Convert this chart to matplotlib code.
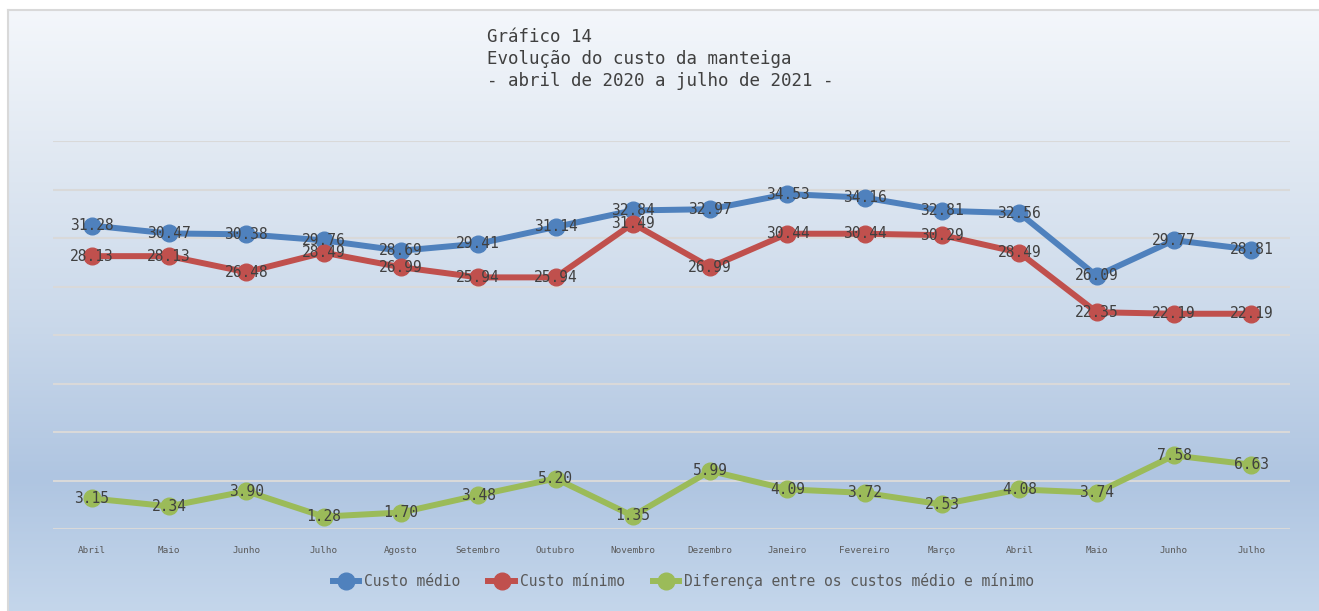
import numpy as np
import matplotlib
matplotlib.use("Agg")
import matplotlib.pyplot as plt
from matplotlib.colors import LinearSegmentedColormap

meses = ["Abril", "Maio", "Junho", "Julho", "Agosto", "Setembro", "Outubro", "Novembro",
         "Dezembro", "Janeiro", "Fevereiro", "Março", "Abril", "Maio", "Junho", "Julho"]
custo_medio = [31.28, 30.47, 30.38, 29.76, 28.69, 29.41, 31.14, 32.84,
               32.97, 34.53, 34.16, 32.81, 32.56, 26.09, 29.77, 28.81]
custo_minimo = [28.13, 28.13, 26.48, 28.49, 26.99, 25.94, 25.94, 31.49,
                26.99, 30.44, 30.44, 30.29, 28.49, 22.35, 22.19, 22.19]
diferenca = [3.15, 2.34, 3.90, 1.28, 1.70, 3.48, 5.20, 1.35,
             5.99, 4.09, 3.72, 2.53, 4.08, 3.74, 7.58, 6.63]

series = [
    ("Custo médio", custo_medio, "#4F81BD"),
    ("Custo mínimo", custo_minimo, "#C0504D"),
    ("Diferença entre os custos médio e mínimo", diferenca, "#9BBB59"),
]

W, H = 1319, 611
fig = plt.figure(figsize=(W / 100, H / 100), dpi=100)
fig.patch.set_facecolor("white")
mono = "DejaVu Sans Mono"

# background gradient panel with thin border
bg = fig.add_axes([8 / W, 0, 1 - 8 / W, 1 - 10 / H])
cmap = LinearSegmentedColormap.from_list(
    "bg", [(0, "#F4F7FB"), (0.25, "#E0E8F2"), (0.5, "#CCDAEB"),
           (0.78, "#AFC5E1"), (1.0, "#C4D6EB")])
grad = np.linspace(0, 1, 256).reshape(-1, 1)
bg.imshow(grad, aspect="auto", cmap=cmap, extent=[0, 1, 0, 1], origin="upper")
bg.set_xlim(0, 1)
bg.set_ylim(0, 1)
bg.set_xticks([])
bg.set_yticks([])
for s in bg.spines.values():
    s.set_visible(False)
for side in ["top", "left"]:
    bg.spines[side].set_visible(True)
    bg.spines[side].set_color("#D9D9D9")
    bg.spines[side].set_linewidth(1.5)

ax = fig.add_axes([53 / W, 82 / H, (1290 - 53) / W, (529 - 141) / H])
ax.patch.set_alpha(0)
x = np.arange(len(meses))
for nome, vals, cor in series:
    ax.plot(x, vals, color=cor, lw=4.3, marker="o", ms=12, label=nome,
            solid_joinstyle="round", zorder=3)
    for xi, v in zip(x, vals):
        ax.text(xi, v, f"{v:.2f}", ha="center", va="center", fontsize=10.5,
                family=mono, color="#404040", zorder=4)

ax.set_xlim(-0.5, len(meses) - 0.5)
ax.set_ylim(0, 40)
ax.set_yticks(np.arange(0, 41, 5))
ax.yaxis.grid(True, color="#D9D9D9", lw=1.5)
ax.set_axisbelow(True)
ax.tick_params(axis="y", left=False, labelleft=False)
ax.tick_params(axis="x", length=0, pad=12)
ax.set_xticks(x)
ax.set_xticklabels(meses, fontsize=6.7, family=mono, color="#595959")
for s in ax.spines.values():
    s.set_visible(False)

fig.text(487 / W, 1 - 28 / H, "Gráfico 14\nEvolução do custo da manteiga\n- abril de 2020 a julho de 2021 -",
         ha="left", va="top", fontsize=12.6, family=mono, color="#404040",
         linespacing=1.3)

leg = fig.legend(loc="center", bbox_to_anchor=(683.5 / W, 1 - 581 / H), ncol=3, frameon=False,
                 prop={"family": mono, "size": 10.5}, handlelength=1.8,
                 handletextpad=0.35, columnspacing=1.9, labelcolor="#595959")

fig.savefig("out.png", dpi=100)
